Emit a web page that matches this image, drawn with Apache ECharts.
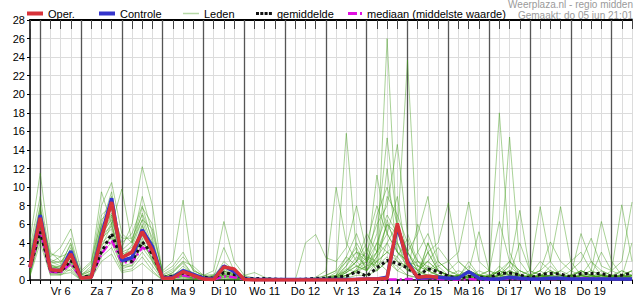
<!DOCTYPE html>
<html><head><meta charset="utf-8">
<script src="https://cdn.jsdelivr.net/npm/echarts@6/dist/echarts.min.js"></script>
<style>html,body{margin:0;padding:0;background:#fff}#c{width:635px;height:300px}</style>
</head><body><div id="c"></div>
<script>
// x index k: 0 = do 5 jun 18:00, step 6 h, 59 = vr 20 jun 12:00
const dayLabels = ['Vr 6','Za 7','Zo 8','Ma 9','Di 10','Wo 11','Do 12','Vr 13','Za 14','Zo 15','Ma 16','Di 17','Wo 18','Do 19'];
const dayBoundaries = [1,5,9,13,17,21,25,29,33,37,41,45,49,53,57];

const oper = [1.4, 6.7,1.1,1.0,2.8, 0.2,0.3,4.5,8.4, 2.4,3.0,5.2,3.2, 0.2,0.2,0.9,0.5, 0.1,0.05,1.4,1.2, 0.05,0,0,0, 0,0,0,0, 0,0,0,0.05, 0.1,0.1,0.2,6.1, 1.8,0.3,0.4,0.3,
 null,null,null,null, null,null,null,null, null,null,null,null, null,null,null,null, null,null,null];
const controle = [1.4, 7.0,1.1,1.0,3.1, 0.2,0.3,4.8,8.8, 2.1,2.4,5.4,3.6, 0.2,0.3,1.0,0.6, 0.2,0.1,1.5,0.9, 0.1,0.05,0.05,0.05, 0.05,0.05,0.05,0.05, 0.05,0.05,0.05,0.05, 0.1,0.1,0.3,5.8, 2.0,0.2,0.3,0.3, 0.2,0.2,0.9,0.2, 0.1,0.1,0.3,0.2, 0.1,0.1,0.2,0.2, 0.1,0.1,0.1,0.1, 0.1,0.1,0.1];
const gemiddelde = [1.4, 5.2,1.0,0.9,2.1, 0.3,0.4,3.0,5.0, 2.2,2.0,4.1,2.8, 0.3,0.4,0.75,0.5, 0.3,0.2,0.8,0.6, 0.2,0.15,0.15,0.1, 0.05,0.05,0.1,0.2, 0.2,0.3,0.4,0.9, 0.4,1.3,2.1,1.8, 1.3,0.4,1.2,0.9, 0.4,0.2,0.4,0.3, 0.2,0.7,0.75,0.55, 0.2,0.6,0.7,0.65, 0.3,0.7,0.7,0.7, 0.4,0.5,0.75];
const mediaan = [1.3, 5.3,0.9,0.8,1.8, 0.2,0.3,2.8,4.3, 1.9,1.9,3.5,3.0, 0.1,0.2,0.5,0.3, 0.1,0.05,0.4,0.3, 0.05,0,0,0, 0,0,0,0, 0,0,0.05,0.1, 0.1,0.1,0.05,0.05, 0.1,0.1,0.2,0.1, 0.05,0.05,0.1,0.05, 0.05,0.1,0.1,0.1, 0.05,0.1,0.1,0.1, 0.1,0.2,0.2,0.1, 0.1,0.1,0.1];

const lid01 = [2.0, 6.0,1.5,1.2,2.5, 0.3,0.5,5.0,7.0, 2.5,3.0,6.0,2.5, 0.2,0.5,1.0,0.3, 0.1,0.2,1.0,0.5, 0.1,0,0,0, 0,0,0,0, 0,0.2,0.5,1.0, 0.5,2.0,26.0,4.0, 2.0,0.5,3.0,1.0, 0.5,0.2,0.5,0.3, 0.2,1.0,0.5,0.3, 0,0.5,1.0,0.5, 0.2,0.5,1.0,0.5, 0.3,0.5,1.0];
const lid02 = [1.0, 7.5,1.0,0.8,3.5, 0.1,0.2,6.0,9.5, 3.0,2.0,4.5,2.0, 0,0.3,0.5,0.2, 0,0,0.5,0.3, 0,0,0,0, 0,0,0,0, 0.1,0.3,1.0,2.0, 1.0,3.0,6.0,5.0, 23.7,3.0,1.0,0.5, 0.3,0.5,1.0,0.5, 0.2,0.5,1.5,0.5, 0.3,0.2,0.5,1.0, 0.5,0.3,0.2,0.5, 0.3,1.0,0.5];
const lid03 = [0.5, 5.0,0.8,0.6,1.5, 0,0.3,3.5,6.0, 1.5,1.8,4.0,3.0, 0.1,0.2,0.4,0.2, 0,0.1,0.3,0.1, 0,0,0,0, 0,0,0,0.1, 0.5,1.0,15.8,3.0, 1.0,2.5,4.0,2.0, 1.0,0.5,1.5,0.5, 0.3,0.5,0.2,0.5, 0.3,1.5,0.5,0.2, 0.5,1.0,0.3,0.2, 0.5,0.2,0.3,0.5, 0.2,0.5,0.3];
const lid04 = [3.0, 8.0,2.0,1.5,4.0, 0.5,1.0,7.0,8.0, 4.0,5.0,8.0,4.0, 0.3,0.8,2.0,0.5, 0.2,0.3,0.5,0.2, 0.1,0,0,0, 0,0,0,0, 0.2,0.5,2.0,3.0, 2.0,5.0,15.3,6.0, 3.0,1.0,2.0,1.0, 0.5,0.3,1.0,0.5, 1.0,18.0,3.0,0.5, 0.2,0.5,0.3,0.2, 0.5,1.0,0.5,0.3, 0.2,0.3,0.5];
const lid05 = [1.5, 6.5,1.2,1.0,2.0, 0.2,0.5,4.0,5.0, 2.0,2.5,5.0,3.5, 0.2,0.5,0.8,0.3, 0.1,0.2,0.8,0.5, 0,0,0,0, 0,0,0,0, 0,0.3,0.8,2.0, 3.0,6.0,8.0,14.6, 5.0,2.0,1.0,0.5, 0.2,0.5,0.3,0.2, 0.5,1.0,15.4,2.0, 0.5,0.3,0.5,0.2, 0.3,0.5,0.2,0.5, 0.3,0.5,0.2];
const lid06 = [4.3, 11.5,3.0,2.0,3.0, 0.5,1.5,8.0,10.5, 5.0,4.0,9.0,5.0, 1.0,2.0,8.6,1.0, 0.5,0.3,0.5,0.2, 0.1,0,0,0, 0,0,0,0, 0.1,0.3,1.5,4.0, 2.0,11.3,5.0,3.0, 2.0,1.0,0.5,0.3, 0.5,0.3,0.2,0.5, 0.3,0.5,1.0,0.5, 0.3,0.5,0.2,0.3, 0.5,0.3,0.5,0.2, 0.3,0.2,0.5];
const lid07 = [2.5, 7.0,2.5,3.5,5.5, 1.0,2.0,6.5,7.5, 3.5,6.0,12.2,8.0, 0.5,1.0,2.0,1.5, 0.5,1.0,6.3,2.0, 0.5,0.2,0,0, 0,0,0,0, 0,0.2,0.5,1.0, 1.5,3.0,9.0,7.0, 4.0,2.0,1.5,1.0, 0.5,0.2,0.5,0.3, 0.2,0.3,0.5,1.0, 0.5,0.3,0.5,0.3, 0.2,0.5,0.3,0.5, 0.3,0.5,0.3];
const lid08 = [1.8, 5.5,1.8,2.0,2.2, 0.3,0.8,5.0,6.5, 3.0,3.5,6.5,3.0, 0.3,0.5,1.2,0.8, 0.3,0.5,1.0,0.5, 0.2,0.1,0,0, 0,0,4.0,4.9, 2.4,2.0,3.5,8.0, 3.0,1.0,2.0,1.5, 0.5,0.3,4.0,1.0, 0.5,0.3,0.2,0.5, 0.3,0.2,0.3,0.5, 0.2,0.5,0.3,0.2, 0.5,0.3,0.2,0.5, 0.3,0.2,0.5];
const lid09 = [1.2, 6.0,0.8,0.7,1.8, 0.1,0.3,4.5,5.5, 2.2,2.0,3.5,2.0, 0.1,0.3,0.6,0.2, 0.1,0.1,0.4,0.3, 0,0,0,0, 0,0,0,0.2, 0.5,1.0,2.5,1.5, 1.0,4.0,3.0,2.0, 1.5,2.0,1.0,1.5, 2.0,3.0,8.4,2.0, 1.0,0.5,0.3,0.5, 1.0,7.9,2.0,0.5, 0.3,0.5,1.0,0.5, 0.3,0.5,0.3];
const lid10 = [0.8, 4.5,1.0,1.2,1.0, 0,0.2,3.0,4.0, 1.5,1.5,3.0,1.5, 0,0.2,0.3,0.1, 0,0,0.2,0.1, 0,0,0,0, 0,0,0,0, 0,0.5,1.5,3.0, 2.5,1.0,4.0,6.0, 3.0,5.0,9.0,2.0, 1.0,0.5,0.3,1.0, 0.5,0.3,1.0,0.5, 0.2,0.3,0.5,1.0, 2.0,3.0,1.0,6.3, 2.0,0.5,1.0];
const lid11 = [2.2, 6.8,1.3,1.5,3.2, 0.4,0.6,5.5,8.0, 2.8,3.2,5.5,4.0, 0.2,0.4,1.5,0.6, 0.2,0.3,0.6,0.4, 0,0,0,0, 0,0,0,0, 0.3,0.5,1.0,2.0, 4.0,8.0,5.0,3.0, 2.0,1.0,3.0,4.0, 8.3,2.0,1.0,0.5, 0.3,0.5,0.8,0.3, 0.5,1.0,2.0,7.9, 2.0,0.5,0.3,1.0, 0.5,0.3,0.2];
const lid12 = [1.0, 5.8,0.9,1.0,2.6, 0.2,0.4,4.2,6.2, 1.8,2.2,4.8,2.8, 0.1,0.3,0.5,0.3, 0.1,0.2,0.6,0.8, 0.1,0,0,0, 0,0,0,0, 0,0.1,0.5,1.0, 2.0,3.0,5.0,9.0, 2.0,1.5,2.0,1.0, 0.5,1.0,0.5,0.3, 0.5,1.0,2.0,0.5, 0.3,0.5,0.5,0.3, 1.0,2.0,4.5,1.5, 1.0,8.1,2.0];
const lid13 = [0.6, 4.8,0.6,0.5,1.2, 0,0.1,2.5,3.5, 1.0,1.2,2.5,1.0, 0,0.1,0.2,0.1, 0,0,0.1,0, 0,0,0,0, 0,0,0,0, 0,0.2,0.5,0.8, 1.5,2.0,3.0,4.0, 1.5,0.8,0.5,1.0, 0.3,0.2,0.5,0.3, 0.2,0.5,0.3,0.2, 0.5,0.3,0.2,0.5, 0.3,1.0,0.5,0.3, 1.0,2.0,8.4];
const lid14 = [3.5, 9.0,2.2,1.8,3.8, 0.6,1.2,6.0,7.0, 4.5,4.5,7.0,3.5, 0.4,0.6,1.0,0.4, 0.2,0.4,3.5,1.0, 0.2,0.1,0,0, 0,0,0,0, 0.1,0.3,0.8,1.5, 2.0,4.0,7.0,5.0, 3.0,1.5,1.0,2.0, 1.0,2.0,1.0,5.2, 1.0,0.5,1.5,7.5, 1.0,0.5,0.3,0.5, 0.5,5.0,2.0,0.5, 0.5,0.3,0.5];
const lid15 = [1.6, 6.3,1.4,1.3,2.4, 0.2,0.7,4.8,5.8, 2.5,2.8,5.8,3.2, 0.2,0.4,0.7,0.4, 0.1,0.2,0.9,0.7, 0.1,0,0,0, 0,0,0,0, 0.2,0.8,2.0,3.5, 1.0,2.5,6.0,4.0, 1.0,3.0,5.0,2.0, 1.0,0.5,0.3,0.5, 1.0,6.3,2.0,1.0, 0.5,1.0,4.1,2.0, 1.0,0.5,0.3,0.5, 0.3,0.5,1.0];
const lid16 = [0.4, 4.0,0.5,0.6,0.8, 0,0.1,2.0,2.8, 0.8,1.0,1.8,0.8, 0,0,0.1,0, 0,0,0,0, 0,0,0,0, 0,0,0,0, 0,0,0.2,0.5, 0.5,1.0,2.0,1.0, 0.5,0.2,0.5,0.3, 0.2,0.1,0.2,0.1, 0.1,0.2,0.3,0.2, 0.1,0.3,0.2,0.1, 0.2,0.5,0.3,0.2, 0.1,0.3,0.2];
const lid17 = [2.8, 7.2,2.8,2.5,3.0, 0.8,1.8,9.5,6.0, 9.8,4.0,6.5,5.5, 0.8,1.5,3.0,1.0, 0.5,0.6,1.5,0.8, 0.3,0.2,0.1,0, 0,0,0,0.3, 1.0,10.0,4.0,2.0, 5.0,3.0,12.0,3.0, 2.0,1.0,0.5,0.5, 0.3,0.5,1.0,0.5, 0.5,0.3,1.0,0.5, 0.3,0.5,1.0,0.5, 0.3,0.2,0.5,0.3, 0.5,1.0,0.5];
const lid18 = [1.3, 5.2,1.1,0.9,2.9, 0.2,0.4,3.8,4.5, 2.0,2.6,4.2,2.2, 0.1,0.2,0.5,0.2, 0,0.1,0.5,0.3, 0,0,0,0, 0,0,0,0, 0.2,0.4,1.2,0.8, 3.5,1.5,2.5,1.0, 2.0,0.5,4.0,1.5, 0.5,0.3,1.0,0.5, 0.3,1.0,0.5,4.0, 1.0,0.5,0.3,0.2, 0.5,1.0,0.5,3.0, 1.0,0.5,0.3];
const lid19 = [2.0, 6.6,1.6,1.4,2.1, 0.3,0.6,4.6,6.8, 2.3,3.8,7.2,4.5, 0.3,0.8,1.8,0.6, 0.1,0.3,0.7,0.4, 0.1,0,0,0, 0,0,0,0, 0.1,0.3,1.0,2.5, 1.5,7.0,10.0,6.0, 3.0,1.0,2.0,3.5, 2.0,0.5,0.3,0.5, 0.3,0.5,2.0,1.0, 0.5,2.0,1.0,0.5, 0.3,0.5,2.0,1.0, 0.5,0.3,4.0];
const lid20 = [0.9, 5.6,0.7,0.9,1.6, 0.1,0.2,3.2,4.8, 1.2,1.6,3.8,2.4, 0,0.2,0.4,0.1, 0,0,0.3,0.2, 0,0,0,0, 0,0,0,0, 0,0.1,0.3,1.2, 2.5,2.0,1.0,2.5, 1.0,6.0,3.0,1.0, 0.5,0.3,2.0,0.5, 0.3,0.2,0.5,0.3, 0.5,0.3,1.5,0.5, 0.3,1.0,0.5,0.3, 0.5,0.3,0.2];
const lid21 = [1.7, 6.0,1.9,2.5,4.5, 0.5,1.0,5.8,7.2, 3.2,4.2,7.8,6.0, 0.6,1.2,2.5,1.2, 0.3,0.5,1.2,0.6, 0.5,0.8,0.3,0.1, 0,0,0,0, 0,0.2,0.8,1.5, 1.0,2.0,3.0,2.5, 4.5,1.5,1.0,0.5, 0.3,0.5,1.5,0.5, 0.2,0.5,0.3,0.5, 0.3,0.5,0.3,0.2, 0.5,0.3,0.5,0.2, 0.3,0.2,0.5];
const lid22 = [2.4, 7.8,1.7,1.1,2.0, 0.3,0.5,5.2,9.0, 2.6,3.0,5.0,3.0, 0.2,0.5,1.0,0.5, 0.2,0.2,2.0,1.0, 0.1,0,0,0, 0,0,0,0, 0.3,0.5,2.5,5.0, 2.0,1.5,6.5,3.0, 1.5,0.5,0.5,0.3, 0.3,0.2,0.3,0.2, 0.3,1.0,0.5,0.3, 0.2,0.3,0.5,0.3, 0.3,0.2,0.3,0.5, 0.3,0.5,0.3];
const leden = [lid01,lid02,lid03,lid04,lid05,lid06,lid07,lid08,lid09,lid10,lid11,lid12,lid13,lid14,lid15,lid16,lid17,lid18,lid19,lid20,lid21,lid22];

const pts = arr => arr.map((v, i) => [i, v]);
const FONT = '"Liberation Sans", Arial, sans-serif';
const C_OPER = '#d8333a', C_CTRL = '#3535cc', C_LID = 'rgba(65,155,25,0.45)', C_MEAN = '#111', C_MED = '#e010e0';

const series = [];
leden.forEach((m, idx) => {
  const s = {
    name: 'Leden', type: 'line', data: pts(m), symbol: 'none', silent: true, color: C_LID,
    lineStyle: { color: C_LID, width: 1 }, z: 2
  };
  if (idx === 0) {
    s.markLine = {
      silent: true, symbol: ['none', 'none'], label: { show: false },
      lineStyle: { color: '#555', width: 1.3, type: 'solid' },
      data: dayBoundaries.map(k => ({ xAxis: k })), z: 1
    };
  }
  series.push(s);
});
series.push({ name: 'mediaan (middelste waarde)', type: 'line', data: pts(mediaan), symbol: 'none', z: 3, color: C_MED,
  lineStyle: { color: C_MED, width: 2.5, type: [8, 3, 2, 3] } });
series.push({ name: 'gemiddelde', type: 'line', data: pts(gemiddelde), symbol: 'none', z: 4, color: C_MEAN,
  lineStyle: { color: C_MEAN, width: 3, type: [3, 3] } });
series.push({ name: 'Controle', type: 'line', data: pts(controle), symbol: 'none', z: 5, color: C_CTRL,
  lineStyle: { color: C_CTRL, width: 3.5 } });
series.push({ name: 'Oper.', type: 'line', data: pts(oper), symbol: 'none', z: 6, color: C_OPER,
  lineStyle: { color: C_OPER, width: 3.5 } });

const legendText = { fontSize: 11, color: '#000', fontFamily: FONT };
const mkLegend = (name, left, icon, color, w, h) => ({
  top: 8, left: left, padding: 0, itemGap: 0, itemWidth: w, itemHeight: h,
  textStyle: legendText, inactiveColor: '#ccc',
  data: [{ name: name, icon: icon, itemStyle: { color: color, borderWidth: 0 } }]
});
const legends = [
  mkLegend('Oper.', 27, 'rect', C_OPER, 16, 4),
  mkLegend('Controle', 99, 'rect', C_CTRL, 16, 4),
  mkLegend('Leden', 183, 'rect', '#b5d8a5', 16, 1.5),
  mkLegend('gemiddelde', 256, 'path://M0,0h3v3h-3zM4.3,0h3v3h-3zM8.6,0h3v3h-3zM12.9,0h3v3h-3z', C_MEAN, 16, 3),
  mkLegend('mediaan (middelste waarde)', 348, 'path://M0,0h9v3h-9zM12,0h2v3h-2z', C_MED, 14, 3)
];

const chart = echarts.init(document.getElementById('c'), null, { renderer: 'svg' });
chart.setOption({
  animation: false,
  backgroundColor: '#fff',
  textStyle: { fontFamily: FONT },
  grid: { left: 30, right: 0, top: 20, bottom: 20 },
  legend: legends,
  graphic: [
    { type: 'text', right: 2, top: -1, style: { text: 'Weerplaza.nl - regio midden', fill: '#9a9a9a', font: '10px ' + FONT, lineHeight: 10, textAlign: 'right' } },
    { type: 'text', right: 2, top: 10, style: { text: 'Gemaakt: do 05 jun 21:01', fill: '#9a9a9a', font: '10px ' + FONT, lineHeight: 10, textAlign: 'right' } }
  ],
  xAxis: [
    { type: 'value', min: 0, max: 59, interval: 1, position: 'bottom',
      axisLine: { show: true, onZero: false, lineStyle: { color: '#000', width: 1.5 } },
      axisTick: { show: true, length: 4, lineStyle: { color: '#000' } },
      axisLabel: { margin: 5, fontSize: 11, color: '#000', fontFamily: FONT, showMinLabel: true, showMaxLabel: true,
        formatter: v => ((v - 3) % 4 === 0 && dayLabels[(v - 3) / 4]) ? dayLabels[(v - 3) / 4] : '' },
      splitLine: { show: true, lineStyle: { color: '#dcdcdc', width: 1 } } },
    { type: 'value', min: 0, max: 59, interval: 1, position: 'top',
      axisLine: { show: true, onZero: false, lineStyle: { color: '#000', width: 2 } },
      axisTick: { show: true, inside: true, length: 9, lineStyle: { color: '#444' } },
      axisLabel: { show: false }, splitLine: { show: false } }
  ],
  yAxis: { type: 'value', min: 0, max: 28, interval: 2,
    axisLine: { show: true, lineStyle: { color: '#000', width: 1.5 } },
    axisTick: { show: true, length: 3, lineStyle: { color: '#000' } },
    axisLabel: { margin: 5, fontSize: 11, color: '#000', fontFamily: FONT },
    splitLine: { show: true, lineStyle: { color: '#dcdcdc', width: 1 } } },
  series: series
});
</script></body></html>
